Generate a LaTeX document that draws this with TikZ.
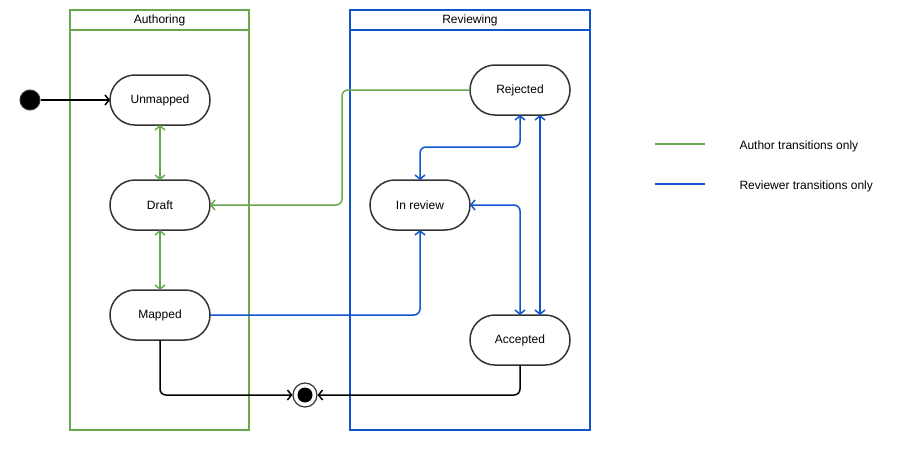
\documentclass[tikz,border=0pt]{standalone}
\usepackage{fontspec}
\setmainfont{Liberation Sans}
\usetikzlibrary{arrows.meta, positioning}

\definecolor{authgreen}{HTML}{6AA84F}
\definecolor{revblue}{HTML}{1155CC}
\definecolor{outline}{HTML}{333333}

\begin{document}
\begin{tikzpicture}[
    x=1pt, y=-1pt,
    font=\fontsize{12}{14}\selectfont,
    state/.style={
        rectangle, rounded corners=25pt, draw=outline, fill=white,
        line width=1.5pt, inner sep=0pt, outer sep=0pt,
        minimum width=100pt, minimum height=50pt
    },
    lane/.style={draw=#1, line width=1.6pt},
    trans/.style={-{Straight Barb[length=4pt,width=10pt]}, line width=1.5pt, rounded corners=6pt},
    both/.style={{Straight Barb[length=4pt,width=10pt]}-{Straight Barb[length=4pt,width=10pt]}, line width=1.5pt, rounded corners=6pt}
]
  \useasboundingbox (0,0) rectangle (898,450);

  % Swimlanes
  \draw[lane=authgreen] (70,10) rectangle (249,430);
  \draw[lane=authgreen] (70,30) -- (249,30);
  \node (authhead) at (159.5,20) {Authoring};
  \draw[lane=revblue] (350,10) rectangle (590,430);
  \draw[lane=revblue] (350,30) -- (590,30);
  \node (revhead) at (470,20) {Reviewing};

  % States
  \node[circle, fill=black, draw=outline, line width=1pt, minimum size=20pt, inner sep=0pt] (start) at (30,100) {};
  \node[state] (unmapped) at (160,100) {Unmapped};
  \node[state, below=55pt of unmapped] (draft) {Draft};
  \node[state, below=60pt of draft] (mapped) {Mapped};
  \node[state] (rejected) at (520,90) {Rejected};
  \node[state] (inreview) at (420,205) {In review};
  \node[state] (accepted) at (520,340) {Accepted};
  \node[circle, draw=outline, fill=white, line width=1.2pt, minimum size=24pt, inner sep=0pt] (final) at (305,395) {};
  \node[circle, fill=black, minimum size=15pt, inner sep=0pt] (finaldot) at (final) {};

  % Transitions
  \draw[trans, black] (start) -- (unmapped);
  \draw[both, authgreen] (unmapped) -- (draft);
  \draw[both, authgreen] (draft) -- (mapped);
  \draw[trans, authgreen] (rejected.west) -- (342,90) |- (draft.east);
  \draw[trans, revblue] (mapped.east) -| (inreview.south);
  \draw[both, revblue] (rejected.south) -- (520,147) -| (inreview.north);
  \draw[both, revblue] (inreview.east) -| (accepted.north);
  \draw[both, revblue] ([xshift=20]rejected.south) -- ([xshift=20]accepted.north);
  \draw[trans, black] (mapped.south) |- (final.west);
  \draw[trans, black] (accepted.south) |- (final.east);

  % Legend
  \coordinate (legauth) at (655,144);
  \coordinate (legrev) at (655,184);
  \draw[authgreen, line width=1.5pt] (legauth) -- ++(50,0);
  \draw[revblue, line width=1.5pt] (legrev) -- ++(50,0);
  \node[anchor=west] (legauthtext) at (736,146) {Author transitions only};
  \node[anchor=west] (legrevtext) at (736,186) {Reviewer transitions only};
\end{tikzpicture}
\end{document}
